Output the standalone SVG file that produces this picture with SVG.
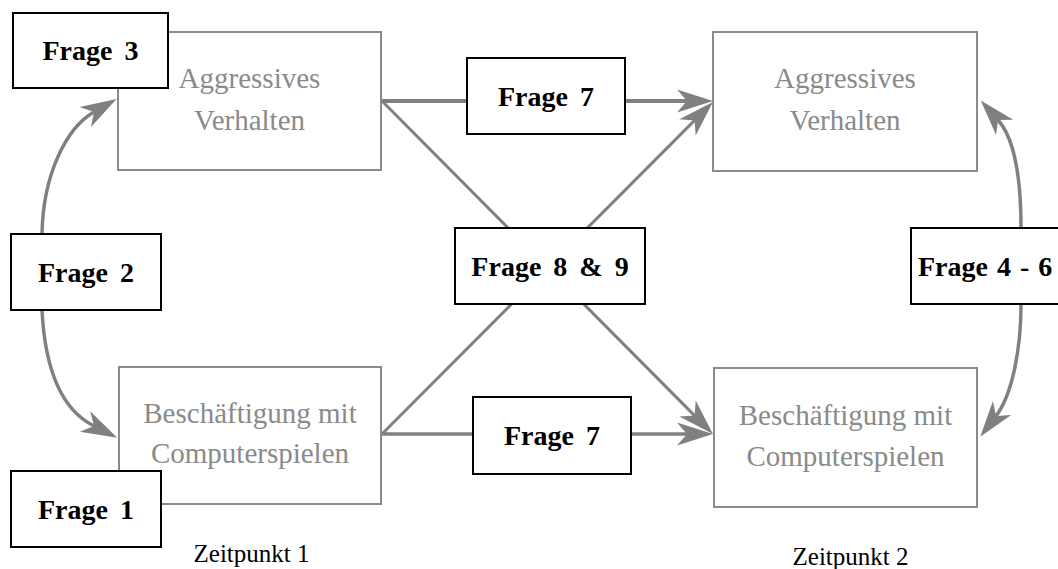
<svg xmlns="http://www.w3.org/2000/svg" width="1058" height="569" viewBox="0 0 1058 569">
<style>
.bg{fill:#ffffff}
.var rect{fill:#ffffff;stroke:#8a8a8a;stroke-width:2}
.var text{font-family:"Liberation Serif","Times New Roman",serif;font-size:29px;fill:#8a8a8a;text-anchor:middle}
.q rect{fill:#ffffff;stroke:#000000;stroke-width:2}
.q text{font-family:"Liberation Serif","Times New Roman",serif;font-size:28px;font-weight:bold;fill:#000000;text-anchor:middle;word-spacing:5px}
.lbl{font-family:"Liberation Serif","Times New Roman",serif;font-size:25px;fill:#000000;text-anchor:middle}
.c{fill:none;stroke:#808080;stroke-width:3.5;marker-end:url(#ah)}
</style>
<defs>
<marker id="ah" viewBox="-38 -13 40 26" markerWidth="40" markerHeight="26" refX="-26" refY="0" orient="auto" markerUnits="userSpaceOnUse">
<path d="M0,0 L-36,-11.5 L-26,0 L-36,11.5 Z" fill="#808080"/>
</marker>
</defs>
<rect class="bg" x="0" y="0" width="1058" height="569"/>
<g id="connectors">
<path class="c" d="M382,101 L687,101" style="stroke-width:4"/>
<path class="c" d="M382,101 L694.6,415.6" style="stroke-width:3"/>
<path class="c" d="M382,434 L694.6,120.4" style="stroke-width:3"/>
<path class="c" d="M382,434 L687,434"/>
<path class="c" d="M42,234 C43,175 66,128 94,112"/>
<path class="c" d="M42,310 C45,370 62,410 94,426"/>
<path class="c" d="M1021,228 C1021,175 1014,138 998,120"/>
<path class="c" d="M1021,304 C1021,350 1012,395 996,416"/>
</g>
<g id="aggr1" class="var">
<rect x="118" y="32" width="263" height="138"/>
<text x="249.5" y="88">Aggressives</text>
<text x="249.5" y="130">Verhalten</text>
</g>
<g id="comp1" class="var">
<rect x="119" y="367" width="262" height="137"/>
<text x="250" y="423">Beschäftigung mit</text>
<text x="250" y="463">Computerspielen</text>
</g>
<g id="aggr2" class="var">
<rect x="713" y="32" width="264" height="139"/>
<text x="845" y="88">Aggressives</text>
<text x="845" y="130">Verhalten</text>
</g>
<g id="comp2" class="var">
<rect x="714" y="368" width="263" height="139"/>
<text x="845.5" y="425">Beschäftigung mit</text>
<text x="845.5" y="466">Computerspielen</text>
</g>
<g id="frage3" class="q">
<rect x="13" y="13" width="155" height="75"/>
<text x="90.5" y="60">Frage 3</text>
</g>
<g id="frage2" class="q">
<rect x="11" y="234" width="150" height="76"/>
<text x="86" y="281.5">Frage 2</text>
</g>
<g id="frage1" class="q">
<rect x="11" y="471" width="150" height="76"/>
<text x="86" y="518.5">Frage 1</text>
</g>
<g id="frage7a" class="q">
<rect x="467" y="58" width="158" height="76"/>
<text x="546" y="105.5">Frage 7</text>
</g>
<g id="frage7b" class="q">
<rect x="473" y="397" width="158" height="77"/>
<text x="552" y="445">Frage 7</text>
</g>
<g id="frage89" class="q">
<rect x="455" y="228" width="190" height="76"/>
<text x="550" y="275.5">Frage 8 &amp; 9</text>
</g>
<g id="frage46" class="q">
<rect x="911" y="228" width="158" height="76"/>
<text x="918" y="275.5" style="text-anchor:start;word-spacing:2px">Frage 4 - 6</text>
</g>
<g id="labels">
<text class="lbl" x="251.5" y="562">Zeitpunkt 1</text>
<text class="lbl" x="850.5" y="565">Zeitpunkt 2</text>
</g>
</svg>
